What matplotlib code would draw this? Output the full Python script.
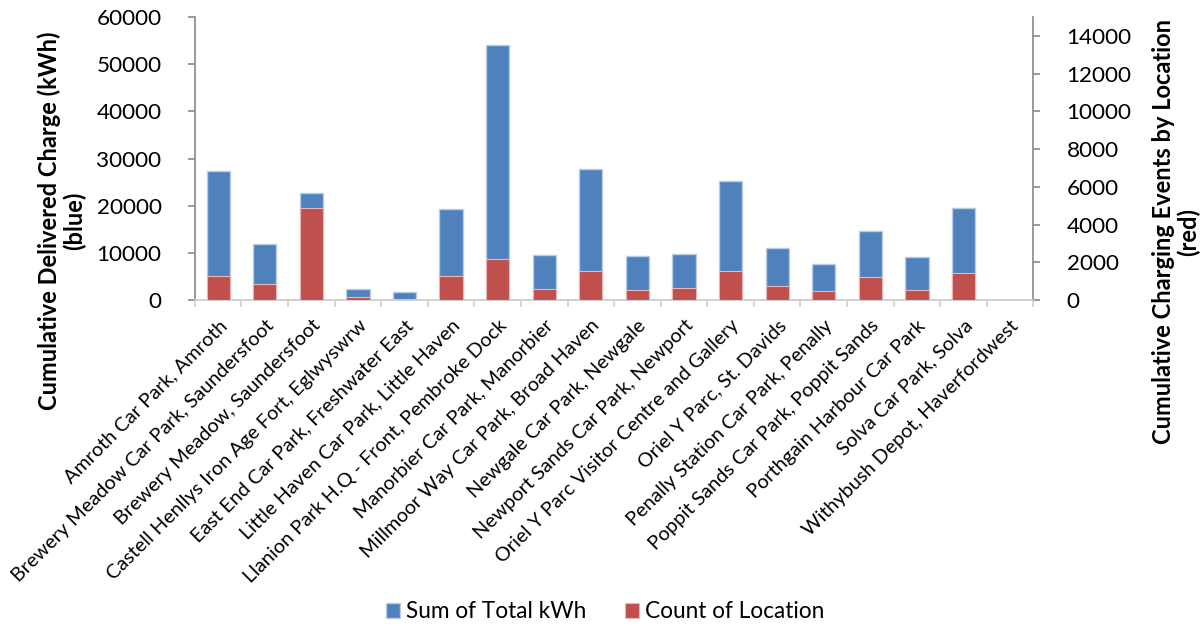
import numpy as np
import matplotlib.pyplot as plt

# Dados
locations = [
    "Amroth Car Park, Amroth",
    "Brewery Meadow Car Park, Saundersfoot",
    "Brewery Meadow, Saundersfoot",
    "Castell Henllys Iron Age Fort, Eglwyswrw",
    "East End Car Park, Freshwater East",
    "Little Haven Car Park, Little Haven",
    "Llanion Park H.Q - Front, Pembroke Dock",
    "Manorbier Car Park, Manorbier",
    "Millmoor Way Car Park, Broad Haven",
    "Newgale Car Park, Newgale",
    "Newport Sands Car Park, Newport",
    "Oriel Y Parc Visitor Centre and Gallery",
    "Oriel Y Parc, St. Davids",
    "Penally Station Car Park, Penally",
    "Poppit Sands Car Park, Poppit Sands",
    "Porthgain Harbour Car Park",
    "Solva Car Park, Solva",
    "Withybush Depot, Haverfordwest",
]
total_kwh = [27450, 11950, 22650, 2400, 1700, 19250, 54100, 9650, 27850,
             9350, 9850, 25300, 10950, 7650, 14750, 9050, 19450, 0]
count_location = [1290, 850, 4880, 160, 55, 1275, 2175, 585, 1520,
                  530, 655, 1520, 745, 480, 1220, 565, 1450, 0]

BLUE = "#4F81BD"
RED = "#C0504D"
SPINE = "#898989"

plt.rcParams['font.family'] = ['Lato', 'DejaVu Sans']

fig = plt.figure(figsize=(12.03, 6.28), dpi=100)
ax = fig.add_axes([0.162, 0.522, 0.697, 0.451])
ax2 = ax.twinx()

x = np.arange(len(locations))
b1 = ax.bar(x, total_kwh, width=0.5, color=BLUE, edgecolor="#b9cde5", linewidth=1.0,
            label="Sum of Total kWh", zorder=2)
b2 = ax2.bar(x, count_location, width=0.5, color=RED, edgecolor="#e6b9b8", linewidth=0.8,
             label="Count of Location", zorder=3)

ax.set_xlim(-0.5, len(locations) - 0.5)
ax.set_ylim(0, 60000)
ax2.set_ylim(0, 15000)
ax.set_yticks(np.arange(0, 60001, 10000))
ax2.set_yticks(np.arange(0, 14001, 2000))

ax.set_xticks(x)
ax.set_xticklabels(locations, rotation=45, ha='right', rotation_mode='anchor', fontsize=14.3)
ax.set_xticks(np.arange(-0.5, len(locations)), minor=True)
ax.tick_params(axis='x', which='major', length=0, pad=12)
ax.tick_params(axis='x', which='minor', length=5, color="#d0d0d0", width=1.2)
ax.tick_params(axis='y', labelsize=16.2, length=5, color=SPINE, width=1.2, pad=19)
ax2.tick_params(axis='y', labelsize=16.2, length=5, color=SPINE, width=1.2, pad=19)

for a in (ax, ax2):
    a.spines['top'].set_visible(False)
    a.spines['left'].set_color(SPINE)
    a.spines['right'].set_color(SPINE)
    a.spines['left'].set_linewidth(1.2)
    a.spines['right'].set_linewidth(1.2)
    a.spines['bottom'].set_color("#d0d0d0")
    a.spines['bottom'].set_linewidth(1.2)
ax.spines['right'].set_visible(False)
ax2.spines['left'].set_visible(False)

fig.text(62 / 1203, 1 - 221 / 628, "Cumulative Delivered Charge (kWh)\n(blue)", rotation=90,
         ha='center', va='center', fontsize=17, fontweight='bold', multialignment='center',
         linespacing=1.1)
fig.text(1176 / 1203, 1 - 232 / 628, "Cumulative Charging Events by Location\n(red)", rotation=90,
         ha='center', va='center', fontsize=17, fontweight='bold', multialignment='center',
         linespacing=1.1)

fig.legend([b1, b2], ["Sum of Total kWh", "Count of Location"], loc='center',
           bbox_to_anchor=(0.503, 1 - 612 / 628), ncol=2, frameon=False, fontsize=16.3,
           handlelength=0.62, handleheight=0.62, columnspacing=1.68, handletextpad=0.3)

fig.savefig("out.png", dpi=100)
